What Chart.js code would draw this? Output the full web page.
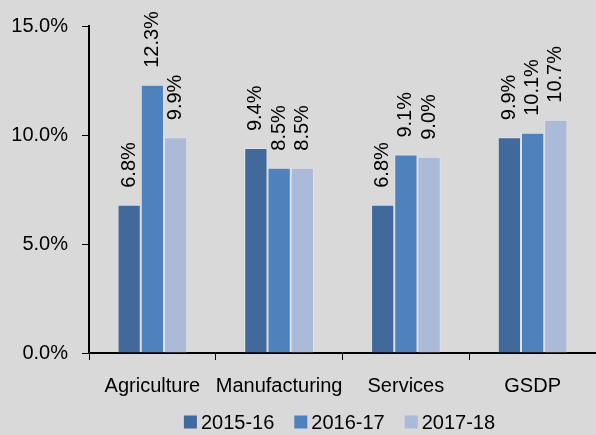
<!DOCTYPE html>
<html>
<head>
<meta charset="utf-8">
<script src="https://cdn.jsdelivr.net/npm/chart.js@4"></script>
<style>
  body { margin: 0; background: #d9d9d9; }
  #wrap { width: 596px; height: 435px; }
</style>
</head>
<body>
<div id="wrap"><canvas id="growthChart"></canvas></div>
<script>
const categories = ["Agriculture", "Manufacturing", "Services", "GSDP"];
const seriesNames = ["2015-16", "2016-17", "2017-18"];
const growth1516 = [6.8, 9.4, 6.8, 9.9];
const growth1617 = [12.3, 8.5, 9.1, 10.1];
const growth1718 = [9.9, 8.5, 9.0, 10.7];
const yTicks = [0, 5, 10, 15];

const colors = ["#41699b", "#4f81bd", "#aabad8"];
const FONT = "'Liberation Sans', Arial, sans-serif";

// Value labels drawn vertically above each bar
const barLabels = {
  id: "barLabels",
  afterDatasetsDraw(chart) {
    const ctx = chart.ctx;
    ctx.save();
    ctx.font = "20px " + FONT;
    ctx.fillStyle = "#000";
    ctx.textAlign = "left";
    ctx.textBaseline = "middle";
    chart.data.datasets.forEach((ds, i) => {
      chart.getDatasetMeta(i).data.forEach((bar, j) => {
        ctx.save();
        ctx.translate(bar.x, bar.y - 17);
        ctx.rotate(-Math.PI / 2);
        ctx.fillText(ds.data[j].toFixed(1) + "%", 0, 0);
        ctx.restore();
      });
    });
    ctx.restore();
  }
};

// Legend along the bottom, tighter box-to-text gap than the built-in one
const bottomLegend = {
  id: "bottomLegend",
  afterDraw(chart) {
    const ctx = chart.ctx;
    const area = chart.chartArea;
    const box = 13, gap = 4, spacing = 20, cy = 422;
    ctx.save();
    ctx.font = "20px " + FONT;
    ctx.textBaseline = "middle";
    ctx.textAlign = "left";
    const items = chart.data.datasets.map(ds => ({
      text: ds.label,
      color: ds.backgroundColor,
      w: box + gap + ctx.measureText(ds.label).width
    }));
    const total = items.reduce((s, it) => s + it.w, 0) + spacing * (items.length - 1);
    let x = (area.left + area.right) / 2 - total / 2 - 3;
    items.forEach(it => {
      ctx.fillStyle = it.color;
      ctx.fillRect(x, cy - box / 2, box, box);
      ctx.fillStyle = "#000";
      ctx.fillText(it.text, x + box + gap, cy + 1);
      x += it.w + spacing;
    });
    ctx.restore();
  }
};

const data = [growth1516, growth1617, growth1718];

new Chart(document.getElementById("growthChart"), {
  type: "bar",
  data: {
    labels: categories,
    datasets: seriesNames.map((name, i) => ({
      label: name,
      data: data[i],
      backgroundColor: colors[i],
      borderColor: "rgba(255,255,255,0.25)",
      borderWidth: 1,
      categoryPercentage: 0.55,
      barPercentage: 1.0
    }))
  },
  options: {
    responsive: true,
    maintainAspectRatio: false,
    animation: false,
    layout: { padding: { top: 12, right: 0, left: 0, bottom: 23 } },
    plugins: {
      tooltip: { enabled: false },
      legend: { display: false }
    },
    scales: {
      x: {
        grid: {
          display: true,
          drawOnChartArea: false,
          drawTicks: true,
          tickLength: 7,
          color: "#000",
          offset: true
        },
        border: { color: "#000", width: 2 },
        ticks: {
          color: "#000",
          padding: 14,
          maxRotation: 0,
          autoSkip: false,
          font: { family: FONT, size: 20 }
        }
      },
      y: {
        min: 0,
        max: 15,
        afterBuildTicks(axis) {
          axis.ticks = yTicks.map(v => ({ value: v }));
        },
        afterFit(axis) { axis.width = 89; },
        grid: {
          display: true,
          drawOnChartArea: false,
          tickLength: 7,
          color: "#000"
        },
        border: { color: "#000", width: 2 },
        ticks: {
          color: "#000",
          padding: 14,
          font: { family: FONT, size: 20 },
          callback: v => v.toFixed(1) + "%"
        }
      }
    }
  },
  plugins: [barLabels, bottomLegend]
});
</script>
</body>
</html>
